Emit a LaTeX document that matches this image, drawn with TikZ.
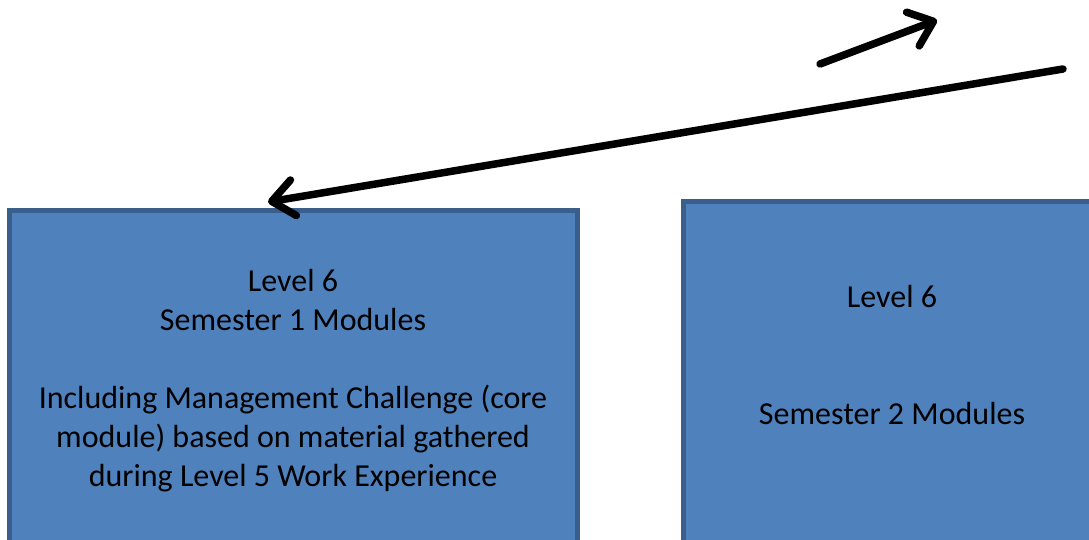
\documentclass[tikz,border=0pt]{standalone}
\usepackage{fontspec}
\setmainfont{Carlito}
\usetikzlibrary{arrows.meta}
\definecolor{boxfill}{HTML}{4F81BD}
\definecolor{boxline}{HTML}{3A5F8C}
\tikzset{
  bluebox/.style={draw=boxline, fill=boxfill, line width=5pt},
  boxtext/.style={align=center, font=\fontsize{32}{39}\selectfont, text=black},
  bigarrow/.style={line width=7.5pt, line cap=round, -{Straight Barb[length=22pt,width=36pt,round]}}
}
\begin{document}
\begin{tikzpicture}[x=1pt,y=-1pt]
\useasboundingbox (0,0) rectangle (1089,540);
\fill[white] (0,0) rectangle (1089,540);
\draw[bluebox] (9.5,210.5) rectangle (577,580);
\fill[boxfill] (683.5,201.5) rectangle (1095,580);
\draw[boxline, line width=5pt] (683.5,580) -- (683.5,201.5) -- (1095,201.5);
\node[boxtext] (t1) at (293,381) {Level 6\\Semester 1 Modules\\[39pt]Including Management Challenge (core\\module) based on material gathered\\during Level 5 Work Experience};
\node[boxtext] (t2) at (892,355) {Level 6\\[78pt]Semester 2 Modules};
\coordinate (a1s) at (820,64);
\coordinate (a1e) at (937,20);
\coordinate (a2s) at (1063,69);
\coordinate (a2e) at (268,202);
\draw[bigarrow] (a1s) -- (a1e);
\draw[bigarrow] (a2s) -- (a2e);
\end{tikzpicture}
\end{document}
